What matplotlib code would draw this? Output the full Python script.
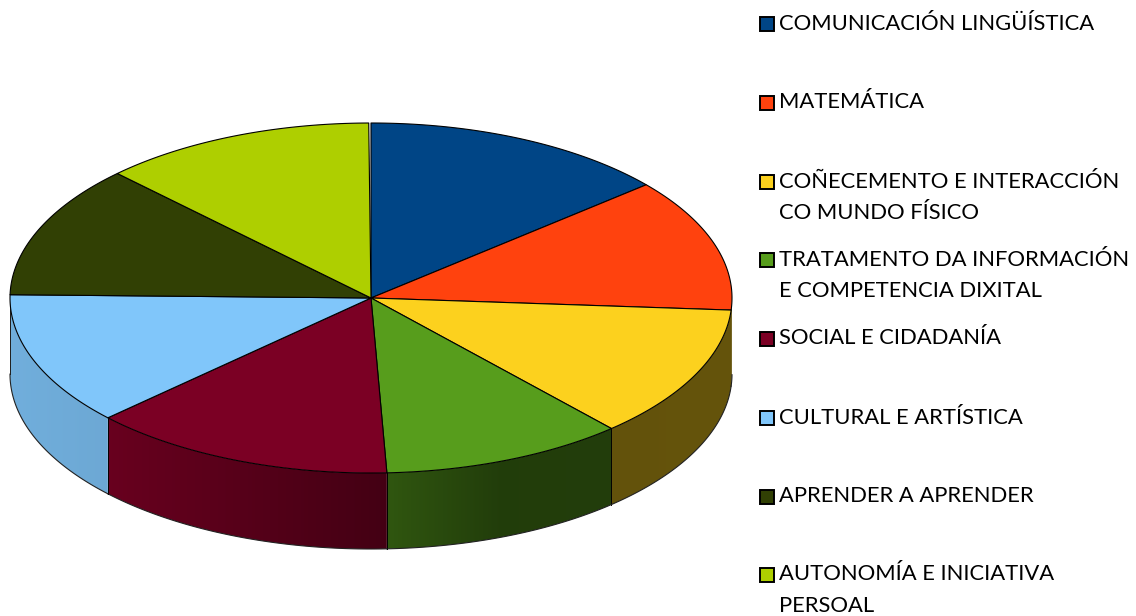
import numpy as np
import matplotlib
from matplotlib import pyplot as plt
from matplotlib.patches import Rectangle, Polygon

plt.rcParams['font.family'] = ['Lato', 'DejaVu Sans']

# shares (percent of the circle)
labels = ['COMUNICACIÓN LINGÜÍSTICA', 'MATEMÁTICA',
          'COÑECEMENTO E INTERACCIÓN\nCO MUNDO FÍSICO',
          'TRATAMENTO DA INFORMACIÓN\nE COMPETENCIA DIXITAL',
          'SOCIAL E CIDADANÍA', 'CULTURAL E ARTÍSTICA',
          'APRENDER A APRENDER', 'AUTONOMÍA E INICIATIVA\nPERSOAL']
values = [13.8, 12.3, 12.3, 10.9, 13.7, 12.3, 12.3, 12.3]
colors = ['#004586', '#ff420e', '#fcd11e', '#579d1c',
          '#7b0024', '#80c6fa', '#314004', '#aecf00']
legend_y = [24, 103, 182, 260, 339, 418, 497, 575]

# pie geometry in pixels
cx, cy, rx, ry, depth = 371, 298, 361, 175, 76

# side wall shading against x position
shade_x = [10, 107, 387, 500, 733]
shade_f = [0.88, 0.85, 0.55, 0.39, 0.40]

fig = plt.figure(figsize=(11.36, 6.16), dpi=100)
ax = fig.add_axes([0, 0, 1, 1])
ax.axis('off')


def rim(t):
    return cx + rx * np.cos(t), cy - ry * np.sin(t)


edges = 90 - np.cumsum([0] + values) * 3.6

# side walls, only the front half is seen
for i in range(len(values)):
    ts = np.radians(np.linspace(edges[i], edges[i + 1], 120))
    ts = ts[np.sin(ts) <= 0.001]
    if len(ts) < 2:
        continue
    # the sliver of wall under the orange slice reads as part of the next one
    sliver = np.degrees(ts[0] - ts[-1]) < 6
    col = colors[i + 1] if sliver else colors[i]
    x, y = rim(ts)
    xs = np.arange(np.floor(x.min()), np.ceil(x.max()) + 1)
    f = np.interp(xs, shade_x, shade_f)
    grad = np.outer(f, matplotlib.colors.to_rgb(col))[None, :, :]
    im = ax.imshow(grad, extent=[xs[0], xs[-1], 616, 0], aspect='auto',
                   interpolation='bilinear', zorder=1)
    wall = Polygon(np.c_[np.r_[x, x[::-1]], np.r_[y, y[::-1] + depth]],
                   transform=ax.transData, fc='none', ec='none')
    ax.add_patch(wall)
    im.set_clip_path(wall)
    ax.plot(x, y + depth, color='#222222', lw=0.8, zorder=2)
    if not sliver:
        ax.plot([x[-1], x[-1]], [y[-1], y[-1] + depth], color='black', lw=0.7, zorder=2)

# outer vertical edge of the wall
x, y = rim(np.pi)
ax.plot([x, x], [y, y + depth], color='#222222', lw=0.7, zorder=2)

# top face
for i in range(len(values)):
    ts = np.radians(np.linspace(edges[i], edges[i + 1], 100))
    x, y = rim(ts)
    ax.fill(np.r_[cx, x], np.r_[cy, y], facecolor=colors[i], edgecolor='black',
            lw=0.8, joinstyle='round', zorder=3)

# legend
for lab, col, y in zip(labels, colors, legend_y):
    ax.add_patch(Rectangle((760, y - 7), 14, 14, facecolor=col, edgecolor='black', lw=1.4))
    ax.text(779, y - 10.5, lab, fontsize=15.8, va='top', ha='left', color='black',
            linespacing=1.72)

ax.set_xlim(0, 1136)
ax.set_ylim(616, 0)
fig.savefig('out.png', dpi=100)
